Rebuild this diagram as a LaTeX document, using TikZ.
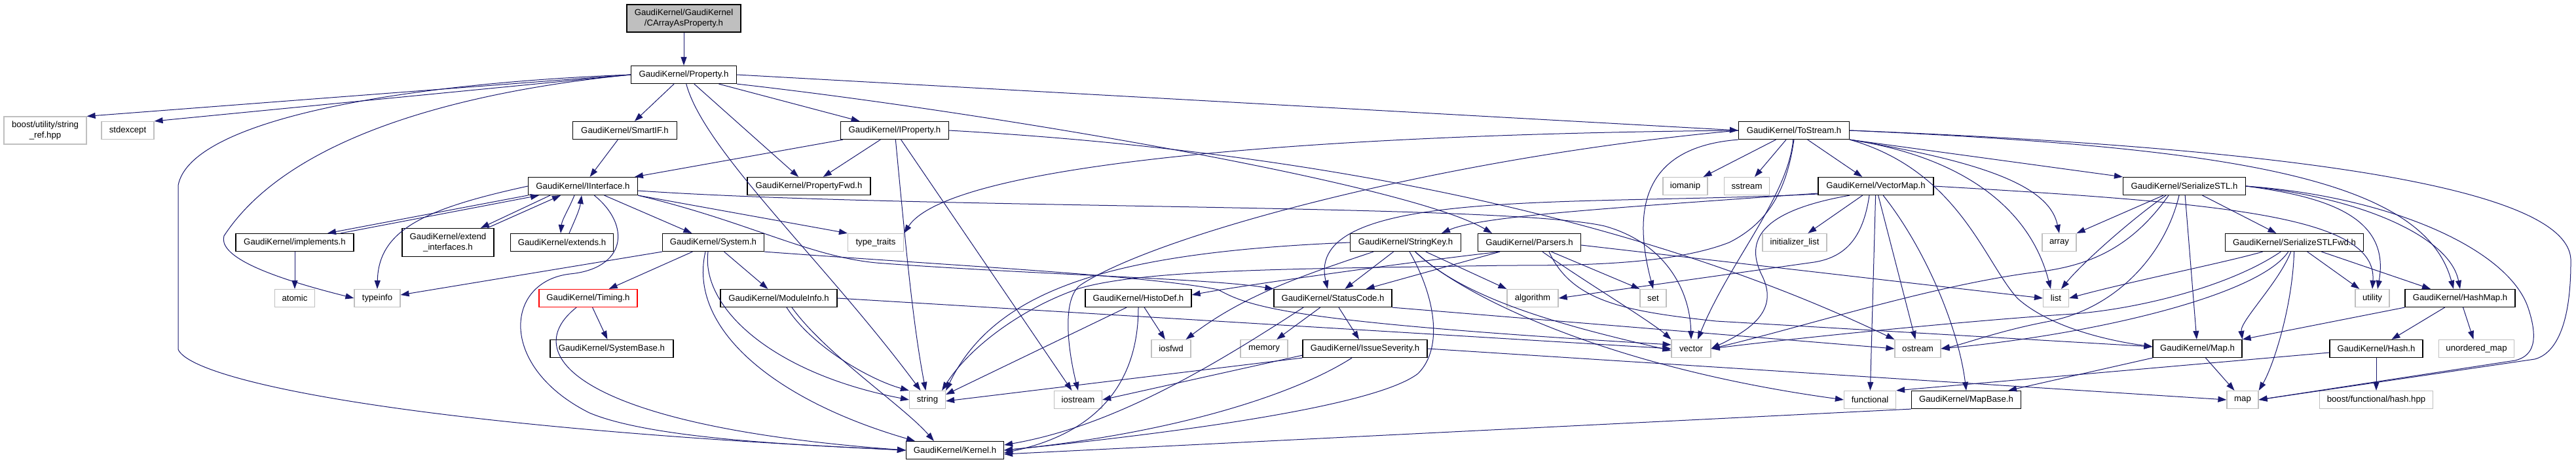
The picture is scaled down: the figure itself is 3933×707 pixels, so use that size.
\documentclass[tikz,border=0pt]{standalone}
\usepackage{fontspec}
\setmainfont{Liberation Sans}
\usetikzlibrary{arrows.meta}
\definecolor{edgeblue}{HTML}{191970}
\definecolor{extgray}{HTML}{BFBFBF}
\definecolor{rootfill}{HTML}{BFBFBF}
\newcommand\nodefont{\fontsize{13.2}{16}\selectfont}
\tikzset{
  nd/.style={draw=black, line width=1.2pt, minimum height=27pt, inner sep=0pt, font=\nodefont, align=center},
  ext/.style={nd, draw=extgray},
  e/.style={draw=edgeblue, line width=1pt, -{Triangle[length=13pt,width=9pt]}},
}
\begin{document}
\begin{tikzpicture}[x=1pt,y=-1pt]
\useasboundingbox (0,0) rectangle (3933,707);
\fill[white] (0,0) rectangle (3933,707);
% nodes
\node[nd, fill=rootfill, minimum width=174pt, minimum height=42pt] (CA) at (1044,28) {GaudiKernel/GaudiKernel\\/CArrayAsProperty.h};
\node[nd, minimum width=161pt] (P) at (1044,114) {GaudiKernel/Property.h};
\node[nd, minimum width=159pt] (SmartIF) at (954,199) {GaudiKernel/SmartIF.h};
\node[nd, minimum width=165pt] (IProperty) at (1366,199) {GaudiKernel/IProperty.h};
\node[nd, minimum width=169pt] (ToStream) at (2739,199) {GaudiKernel/ToStream.h};
\node[ext, minimum width=126pt, minimum height=42pt] (bsr) at (69,199) {boost/utility/string\\\_ref.hpp};
\node[ext, minimum width=80pt] (stdexcept) at (195,199) {stdexcept};
\node[nd, minimum width=167pt] (II) at (890,284) {GaudiKernel/IInterface.h};
\node[nd, minimum width=188pt] (PropertyFwd) at (1235,284) {GaudiKernel/PropertyFwd.h};
\node[ext, minimum width=68pt] (iomanip) at (2573,284) {iomanip};
\node[ext, minimum width=69pt] (sstream) at (2667,284) {sstream};
\node[nd, minimum width=176pt] (VectorMap) at (2864,284) {GaudiKernel/VectorMap.h};
\node[nd, minimum width=187pt] (SS) at (3335,284) {GaudiKernel/SerializeSTL.h};
\node[nd, minimum width=180pt] (implements) at (450,370) {GaudiKernel/implements.h};
\node[nd, minimum width=140pt, minimum height=43pt] (extendi) at (684,370) {GaudiKernel/extend\\\_interfaces.h};
\node[nd, minimum width=157pt] (extends) at (858,370) {GaudiKernel/extends.h};
\node[nd, minimum width=155pt] (System) at (1089,370) {GaudiKernel/System.h};
\node[ext, minimum width=85pt] (typetraits) at (1337,370) {type\_traits};
\node[nd, minimum width=169pt] (StringKey) at (2146,370) {GaudiKernel/StringKey.h};
\node[nd, minimum width=157pt] (Parsers) at (2335,370) {GaudiKernel/Parsers.h};
\node[ext, minimum width=98pt] (initlist) at (2740,370) {initializer\_list};
\node[ext, minimum width=52pt] (sArray) at (3144,370) {array};
\node[nd, minimum width=211pt] (SSF) at (3503,370) {GaudiKernel/SerializeSTLFwd.h};
\node[ext, minimum width=61pt] (atomic) at (450,455) {atomic};
\node[ext, minimum width=70pt] (typeinfo) at (576,455) {typeinfo};
\node[nd, draw=red, minimum width=150pt] (Timing) at (898,455) {GaudiKernel/Timing.h};
\node[nd, minimum width=178pt] (ModuleInfo) at (1189,455) {GaudiKernel/ModuleInfo.h};
\node[nd, minimum width=162pt] (HistoDef) at (1738,455) {GaudiKernel/HistoDef.h};
\node[nd, minimum width=180pt] (StatusCode) at (2035,455) {GaudiKernel/StatusCode.h};
\node[ext, minimum width=78pt] (algorithm) at (2340,455) {algorithm};
\node[ext, minimum width=40pt] (sSet) at (2524,455) {set};
\node[ext, minimum width=39pt] (sList) at (3139,455) {list};
\node[ext, minimum width=52pt] (utility) at (3622,455) {utility};
\node[nd, minimum width=168pt] (HashMap) at (3756,455) {GaudiKernel/HashMap.h};
\node[nd, minimum width=188pt] (SystemBase) at (934,532) {GaudiKernel/SystemBase.h};
\node[ext, minimum width=60pt] (iosfwd) at (1788,532) {iosfwd};
\node[ext, minimum width=72pt] (memory) at (1930,532) {memory};
\node[nd, minimum width=190pt] (IssueSeverity) at (2084,532) {GaudiKernel/IssueSeverity.h};
\node[ext, minimum width=60pt] (sVector) at (2582,532) {vector};
\node[ext, minimum width=70pt] (ostream) at (2928,532) {ostream};
\node[nd, minimum width=136pt] (GMap) at (3355,532) {GaudiKernel/Map.h};
\node[nd, minimum width=142pt] (Hash) at (3628,532) {GaudiKernel/Hash.h};
\node[ext, minimum width=115pt] (umap) at (3781,532) {unordered\_map};
\node[ext, minimum width=55pt] (sString) at (1416,610) {string};
\node[ext, minimum width=73pt] (iostream) at (1646,610) {iostream};
\node[ext, minimum width=79pt] (functional) at (2855,610) {functional};
\node[nd, minimum width=167pt] (MapBase) at (3002,610) {GaudiKernel/MapBase.h};
\node[ext, minimum width=48pt] (sMap) at (3424,610) {map};
\node[ext, minimum width=173pt] (bhash) at (3628,610) {boost/functional/hash.hpp};
\node[nd, minimum width=149pt] (Kernel) at (1458,687) {GaudiKernel/Kernel.h};

% CArrayAsProperty
\draw[e] (CA) -- (P);
% Property
\draw[e] (P.west) -- (bsr.north east);
\draw[e] (P.west) -- (stdexcept.north east);
\draw[e] (P.west) .. controls (600,128) and (290,185) .. (272,283) -- (272,533) .. controls (290,578) and (600,650) .. (Kernel.west);
\draw[e] (P.west) .. controls (700,140) and (440,210) .. (342,360) .. controls (335,385) and (380,415) .. (typeinfo.west);
\draw[e] (P) -- (SmartIF);
\draw[e] (P) .. controls (1075,230) and (1260,400) .. (sString);
\draw[e] (P) -- (PropertyFwd);
\draw[e] (P) -- (IProperty);
\draw[e] (P.east) -- (ToStream.west);
\draw[e] (P.south east) .. controls (1500,170) and (2150,280) .. ([xshift=-57pt]Parsers.north);
% SmartIF, IProperty
\draw[e] (SmartIF) -- (II);
\draw[e] (IProperty) -- (II);
\draw[e] (IProperty) -- (PropertyFwd);
\draw[e] (IProperty) .. controls (1385,400) and (1395,500) .. (sString);
\draw[e] (IProperty) -- (iostream);
\draw[e] (IProperty.east) .. controls (2000,230) and (2500,330) .. (ostream.north west);
% IInterface
\draw[e] (II.south west) -- ([xshift=50pt]implements.north);
\draw[e] ([xshift=70pt]implements.north) -- ([xshift=-67pt]II.south);
\draw[e] ([xshift=-50pt]II.south) -- ([xshift=50pt]extendi.north);
\draw[e] ([xshift=60pt]extendi.north) -- ([xshift=-34pt]II.south);
\draw[e] ([xshift=-13pt]II.south) .. controls (868,320) and (858,335) .. ([xshift=-2pt]extends.north);
\draw[e] ([xshift=11pt]extends.north) .. controls (878,335) and (885,320) .. ([xshift=-2pt]II.south);
\draw[e] (II.west) .. controls (650,318) and (578,350) .. (typeinfo.north);
\draw[e] (II) .. controls (965,345) and (955,410) .. (870,418) .. controls (770,430) and (760,560) .. (900,630) .. controls (1000,672) and (1250,680) .. (Kernel.west);
\draw[e] (II) -- (System);
\draw[e] (II.south east) -- (typetraits.north west);
\draw[e] (II.south east) .. controls (1150,340) and (1240,395) .. (1350,402) .. controls (1600,420) and (1850,425) .. (StatusCode.north west);
\draw[e] ([yshift=-7pt]II.east) .. controls (1400,320) and (2300,310) .. (2450,345) .. controls (2540,370) and (2580,440) .. (sVector.north);
\draw[e] (implements) -- (atomic);
% System
\draw[e] (System.south west) -- ([yshift=5pt]typeinfo.east);
\draw[e] (System) -- (Timing);
\draw[e] (System) -- (ModuleInfo);
\draw[e] ([xshift=-8pt]System.south) .. controls (1070,470) and (1180,570) .. (sString.west);
\draw[e] ([xshift=-12pt]System.south) .. controls (1050,500) and (1180,610) .. ([xshift=14pt]Kernel.north west);
\draw[e] (System.south east) .. controls (1450,405) and (1750,420) .. (1860,442) .. controls (1910,470) and (1980,492) .. ([yshift=6pt]sVector.west);
% Timing
\draw[e] (Timing) -- (SystemBase);
\draw[e] (Timing) .. controls (790,540) and (880,650) .. (Kernel.west);
% ModuleInfo
\draw[e] ([xshift=12pt]ModuleInfo.south) .. controls (1240,530) and (1330,580) .. (sString.north west);
\draw[e] ([xshift=20pt]ModuleInfo.south) .. controls (1260,540) and (1380,620) .. ([xshift=43pt]Kernel.north west);
\draw[e] (ModuleInfo.east) -- (sVector.west);
% ToStream
\draw[e] (ToStream) -- (iomanip);
\draw[e] (ToStream) -- (sstream);
\draw[e] (ToStream) -- (VectorMap);
\draw[e] (ToStream.south east) -- (SS.north west);
\draw[e] (ToStream.west) .. controls (2000,205) and (1450,250) .. (typetraits.north east);
\draw[e] (ToStream.west) .. controls (2200,240) and (1760,360) .. (1648,436) .. controls (1620,460) and (1632,540) .. (iostream.north);
\draw[e] (ToStream.south) .. controls (2728,290) and (2700,340) .. (2640,370) .. controls (2550,405) and (2400,405) .. (2300,405) .. controls (2000,410) and (1750,410) .. (1648,440) .. controls (1560,470) and (1480,530) .. ([xshift=-6pt]sString.north east);
\draw[e] (ToStream) .. controls (2730,300) and (2640,400) .. ([xshift=10pt]sVector.north);
\draw[e] (ToStream.south west) .. controls (2500,225) and (2495,330) .. (sSet.north);
\draw[e] (ToStream.south east) .. controls (3000,240) and (3100,320) .. ([xshift=-8pt]sList.north);
\draw[e] (ToStream.south east) .. controls (3050,250) and (3130,290) .. (sArray.north);
\draw[e] (ToStream.east) .. controls (3400,225) and (3700,270) .. ([xshift=-10pt]HashMap.north);
\draw[e] (ToStream.east) .. controls (3600,230) and (3930,300) .. (3925,400) .. controls (3925,500) and (3900,540) .. (3870,548) -- (sMap.east);
\draw[e] (ToStream.south east) .. controls (2990,260) and (3030,400) .. (3080,455) .. controls (3130,500) and (3220,520) .. ([yshift=3pt]GMap.west);
% VectorMap
\draw[e] (VectorMap) -- (initlist);
\draw[e] ([yshift=-12pt]VectorMap.west) .. controls (2400,315) and (1990,285) .. ([xshift=-8pt]StatusCode.north);
\draw[e] ([yshift=-11pt]VectorMap.west) .. controls (2450,318) and (2260,330) .. ([xshift=55pt]StringKey.north);
\draw[e] ([xshift=-10pt]VectorMap.south) .. controls (2845,360) and (2820,392) .. (2770,400) -- (algorithm.east);
\draw[e] (VectorMap) -- (functional);
\draw[e] (VectorMap) -- (ostream);
\draw[e] (VectorMap) .. controls (2940,380) and (2990,500) .. (MapBase.north);
\draw[e] ([xshift=-40pt]VectorMap.south) .. controls (2700,320) and (2660,360) .. (2690,420) .. controls (2715,470) and (2680,500) .. (sVector.east);
\draw[e] (VectorMap.east) .. controls (3400,310) and (3630,330) .. (utility.north);
% StringKey
\draw[e] (StringKey.west) .. controls (1700,385) and (1520,440) .. (sString.north east);
\draw[e] ([xshift=-49pt]StringKey.south) .. controls (1990,420) and (1900,450) .. ([xshift=-8pt]iosfwd.north east);
\draw[e] (StringKey) -- (StatusCode);
\draw[e] ([xshift=6pt]StringKey.south) .. controls (2190,450) and (2205,530) .. (2165,570) .. controls (2100,620) and (1800,660) .. (Kernel.east);
\draw[e] (StringKey) .. controls (2230,450) and (2450,560) .. (functional.west);
\draw[e] (StringKey) .. controls (2240,460) and (2400,500) .. ([yshift=-3pt]sVector.west);
\draw[e] (StringKey) -- (algorithm.north west);
% Parsers
\draw[e] ([xshift=-45pt]Parsers.south) .. controls (2150,400) and (1900,435) .. ([yshift=5pt]HistoDef.east);
\draw[e] ([xshift=-45pt]Parsers.south) -- ([xshift=-40pt]StatusCode.north east);
\draw[e] (Parsers) .. controls (2420,430) and (2520,490) .. (sVector.north west);
\draw[e] (Parsers) -- (sSet.north west);
\draw[e] ([yshift=-4pt]Parsers.east) -- (sList.west);
\draw[e] ([xshift=30pt]Parsers.south) .. controls (2400,460) and (2480,475) .. (2620,490) -- ([yshift=3pt]GMap.west);
% StatusCode
\draw[e] (StatusCode) -- (IssueSeverity);
\draw[e] (StatusCode) -- (memory);
\draw[e] ([xshift=-45pt]StatusCode.south) .. controls (1850,560) and (1700,650) .. ([yshift=8pt]Kernel.east);
\draw[e] (StatusCode.south east) -- (ostream.west);
% IssueSeverity
\draw[e] (IssueSeverity.south west) -- ([yshift=-2pt]sString.east);
\draw[e] ([yshift=4pt]IssueSeverity.south west) -- (iostream.east);
\draw[e] ([xshift=-20pt]IssueSeverity.south) .. controls (1980,600) and (1800,660) .. (Kernel.east);
\draw[e] (IssueSeverity.east) -- (sMap.west);
% HistoDef
\draw[e] ([xshift=-18pt]HistoDef.south) -- ([yshift=8pt]sString.east);
\draw[e] (HistoDef) -- (iosfwd);
\draw[e] (HistoDef.south) .. controls (1738,580) and (1680,660) .. ([yshift=-4pt]Kernel.east);
% Map family
\draw[e] (MapBase.south west) -- ([yshift=-6pt]Kernel.east);
\draw[e] (GMap.south west) -- ([xshift=-20pt]MapBase.north east);
\draw[e] (GMap) -- (sMap);
\draw[e] (HashMap.south west) -- (GMap.north east);
\draw[e] (HashMap) -- (Hash);
\draw[e] (HashMap) -- (umap);
\draw[e] ([yshift=-6pt]Hash.west) -- (functional.north east);
\draw[e] (Hash) -- (bhash);
% SerializeSTL
\draw[e] (SS) -- (SSF);
\draw[e] ([xshift=-32pt]SS.south) -- (sArray.north east);
\draw[e] ([xshift=-28pt]SS.south) .. controls (3260,330) and (3180,400) .. ([xshift=8pt]sList.north);
\draw[e] ([xshift=-24pt]SS.south) .. controls (3260,370) and (3200,405) .. (3110,415) .. controls (2950,435) and (2750,500) .. (sVector.east);
\draw[e] ([xshift=-8pt]SS.south) .. controls (3305,390) and (3230,470) .. (3130,490) .. controls (3050,505) and (3000,525) .. (ostream.east);
\draw[e] (SS) -- (GMap);
\draw[e] (SS.east) .. controls (3550,300) and (3650,330) .. ([xshift=8pt]utility.north);
\draw[e] (SS.east) .. controls (3600,300) and (3740,360) .. (HashMap.north);
\draw[e] (SS.east) .. controls (3650,300) and (3830,380) .. (3860,470) .. controls (3880,530) and (3860,545) .. (3840,550) -- (sMap.east);
% SerializeSTLFwd
\draw[e] (SSF) .. controls (3400,400) and (3250,430) .. (sList.east);
\draw[e] (SSF) .. controls (3400,440) and (3250,475) .. (3150,480) .. controls (3000,490) and (2750,515) .. (sVector.east);
\draw[e] (SSF) .. controls (3450,450) and (3200,510) .. (ostream.east);
\draw[e] (SSF) .. controls (3480,430) and (3420,490) .. (GMap.north east);
\draw[e] (SSF) .. controls (3500,470) and (3470,560) .. (sMap.north east);
\draw[e] (SSF) -- (utility);
\draw[e] (SSF) -- ([xshift=-45pt]HashMap.north);
\end{tikzpicture}
\end{document}
